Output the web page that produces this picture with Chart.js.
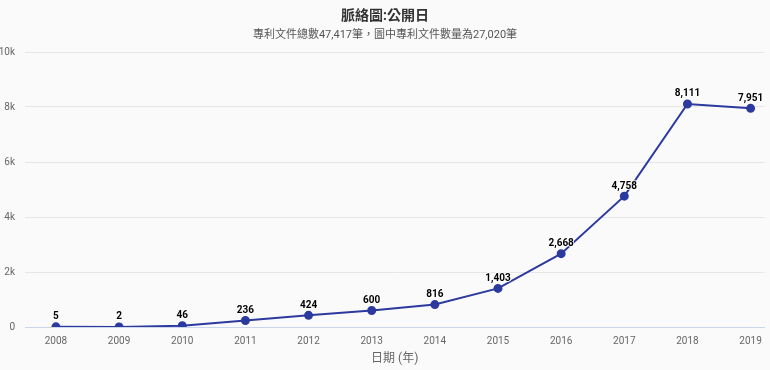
<!DOCTYPE html>
<html>
<head>
<meta charset="utf-8">
<script src="https://cdn.jsdelivr.net/npm/chart.js@4"></script>
<style>
  html, body { margin: 0; padding: 0; background: #ffffff; }
  #wrap { width: 770px; height: 370px; position: relative; background: #fafafa; }
</style>
</head>
<body>
<div id="wrap"><canvas id="chart" width="770" height="370"></canvas></div>
<script>
const years = [2008, 2009, 2010, 2011, 2012, 2013, 2014, 2015, 2016, 2017, 2018, 2019];
const counts = [5, 2, 46, 236, 424, 600, 816, 1403, 2668, 4758, 8111, 7951];
const yTicks = [0, 2000, 4000, 6000, 8000, 10000];
const yTickLabels = ['0', '2k', '4k', '6k', '8k', '10k'];

const titleText = '脈絡圖:公開日';
const subtitleText = '專利文件總數47,417筆，圖中專利文件數量為27,020筆';
const xTitle = '日期 (年)';

const cjk = "Roboto, 'Noto Sans CJK TC', sans-serif";

// value labels above each point
const pointLabels = {
    id: 'pointLabels',
    afterDatasetsDraw(chart) {
        const ctx = chart.ctx;
        const meta = chart.getDatasetMeta(0);
        ctx.save();
        ctx.font = "bold 10px Roboto, sans-serif";
        ctx.textAlign = 'center';
        ctx.textBaseline = 'bottom';
        ctx.lineWidth = 2;
        ctx.strokeStyle = 'rgba(255,255,255,0.8)';
        ctx.fillStyle = '#000000';
        meta.data.forEach((pt, i) => {
            const txt = counts[i].toLocaleString('en-US');
            ctx.strokeText(txt, pt.x, pt.y - 5);
            ctx.fillText(txt, pt.x, pt.y - 5);
        });
        ctx.restore();
    }
};

new Chart(document.getElementById('chart'), {
    type: 'line',
    data: {
        datasets: [{
            data: years.map((y, i) => ({ x: y, y: counts[i] })),
            borderColor: '#2c3a9f',
            backgroundColor: '#2c3a9f',
            borderWidth: 2,
            pointRadius: 3.5,
            pointHoverRadius: 3.5,
            tension: 0
        }]
    },
    options: {
        responsive: false,
        animation: false,
        layout: { padding: { left: 0, right: 0, top: 6, bottom: 2 } },
        plugins: {
            legend: { display: false },
            tooltip: { enabled: false },
            title: {
                display: true,
                text: titleText,
                color: '#333333',
                font: { family: cjk, size: 14, weight: 'bold' },
                padding: { top: 2, bottom: 4 }
            },
            subtitle: {
                display: true,
                text: subtitleText,
                color: '#555555',
                font: { family: cjk, size: 11 },
                padding: { bottom: 10 }
            }
        },
        scales: {
            x: {
                type: 'linear',
                min: 2007.51,
                max: 2019.22,
                afterBuildTicks: (axis) => {
                    axis.ticks = years.map(v => ({ value: v }));
                },
                afterFit: (axis) => {
                    axis.height = 41;
                },
                grid: { display: false, drawTicks: false },
                border: { display: true, color: '#ccd6eb', width: 1 },
                ticks: {
                    color: '#666666',
                    font: { family: 'Roboto, sans-serif', size: 10 },
                    padding: 8,
                    callback: (v) => String(v)
                },
                title: {
                    display: true,
                    text: xTitle,
                    color: '#666666',
                    font: { family: cjk, size: 12 },
                    padding: { top: 1, bottom: 2 }
                }
            },
            y: {
                min: 0,
                max: 10000,
                afterBuildTicks: (axis) => {
                    axis.ticks = yTicks.map(v => ({ value: v }));
                },
                afterFit: (axis) => { axis.width = 25; },
                grid: { color: '#e6e6e6', drawTicks: false },
                border: { display: false },
                ticks: {
                    color: '#666666',
                    font: { family: 'Roboto, sans-serif', size: 10 },
                    padding: 10,
                    callback: (v) => yTickLabels[yTicks.indexOf(v)]
                }
            }
        }
    },
    plugins: [pointLabels]
});
</script>
</body>
</html>
